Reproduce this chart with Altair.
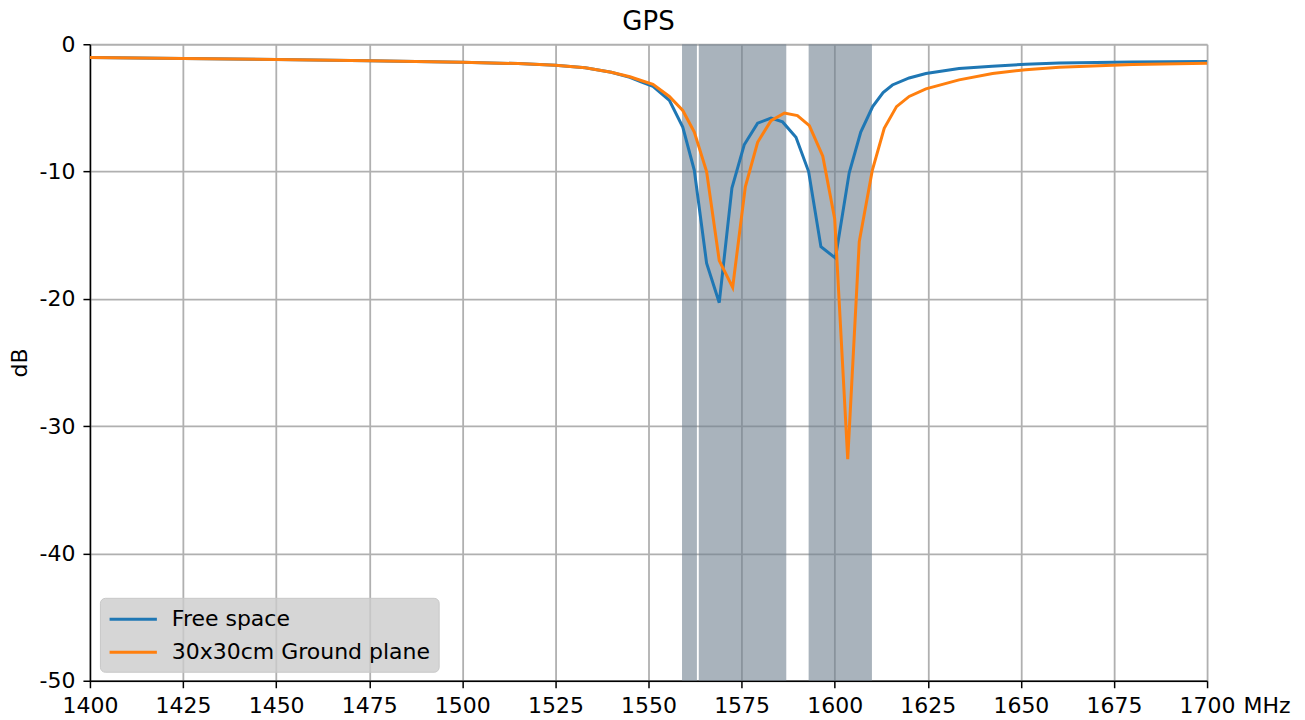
import altair as alt
import pandas as pd

# ---- data ----
free_mhz = [1400, 1425, 1450, 1475, 1500, 1515, 1525, 1533, 1540, 1545, 1548, 1551.2,
            1555.6, 1559.2, 1562.3, 1565.6, 1569.0, 1572.4, 1575.7, 1579.3, 1582.9,
            1586.0, 1589.6, 1593.0, 1596.3, 1600.2, 1603.9, 1607.0, 1610.2, 1613.0,
            1615.5, 1620, 1624.5, 1633.4, 1642.3, 1651.3, 1660.3, 1680, 1700]
free_db = [-1.05, -1.12, -1.2, -1.3, -1.41, -1.52, -1.65, -1.85, -2.2, -2.6, -2.95, -3.3,
           -4.4, -6.5, -9.9, -17.2, -20.3, -11.3, -7.9, -6.2, -5.8,
           -6.1, -7.3, -10.0, -15.9, -16.8, -10.1, -6.9, -4.9, -3.8,
           -3.2, -2.65, -2.3, -1.9, -1.73, -1.57, -1.47, -1.4, -1.35]

gp_mhz = [1400, 1425, 1450, 1475, 1500, 1515, 1525, 1533, 1540, 1545, 1548, 1551.2,
          1555.6, 1559.2, 1562.3, 1565.6, 1569.0, 1572.6, 1576.0, 1579.3, 1582.9,
          1586.5, 1590.0, 1593.2, 1596.8, 1600.0, 1603.5, 1606.6, 1610.1, 1613.3,
          1616.6, 1620, 1624.5, 1633.4, 1642.4, 1651.3, 1660.3, 1680, 1700]
gp_db = [-1.05, -1.12, -1.2, -1.3, -1.41, -1.52, -1.65, -1.85, -2.2, -2.55, -2.85, -3.15,
         -4.1, -5.2, -6.9, -10.0, -17.0, -19.1, -11.2, -7.7, -6.0,
         -5.4, -5.6, -6.4, -8.8, -13.7, -32.6, -15.5, -9.9, -6.6,
         -4.9, -4.1, -3.5, -2.8, -2.3, -2.0, -1.8, -1.6, -1.5]

series_names = ["Free space", "30x30cm Ground plane"]
series_colors = ["#1f77b4", "#ff7f0e"]

band_start = [1559, 1563.5, 1593]
band_end = [1563, 1587, 1610]

x_ticks = [1400, 1425, 1450, 1475, 1500, 1525, 1550, 1575, 1600, 1625, 1650, 1675, 1700]
y_ticks = [0, -10, -20, -30, -40, -50]

W, H = 1118, 637
FONT = "DejaVu Sans"
FS = 22

lines_df = pd.concat([
    pd.DataFrame({"mhz": free_mhz, "db": free_db, "series": series_names[0], "order": 0}),
    pd.DataFrame({"mhz": gp_mhz, "db": gp_db, "series": series_names[1], "order": 1}),
], ignore_index=True)
bands_df = pd.DataFrame({"start": band_start, "end": band_end})

x_scale = alt.Scale(domain=[1400, 1700], nice=False, zero=False)
y_scale = alt.Scale(domain=[-50, 0], nice=False, zero=False)

x_axis = alt.Axis(values=x_ticks, format="d", title="MHz", titleAngle=0, titleAlign="left",
                  titleBaseline="top", titleX=W + 36, titleY=15, titleFont=FONT,
                  titleFontSize=FS, titleFontWeight="normal", titleColor="black",
                  labelFont=FONT, labelFontSize=FS, labelColor="black",
                  labelFlush=False, labelOverlap=False,
                  labelPadding=8, tickSize=7, tickColor="black", tickWidth=1.5,
                  domainColor="black", domainWidth=1.5,
                  grid=True, gridColor="#b0b0b0", gridWidth=1.8)
y_axis = alt.Axis(values=y_ticks, format="d", title="dB", titleAngle=-90, titleAlign="center",
                  titleBaseline="middle", titleX=-70, titleY=H / 2, titleFont=FONT,
                  titleFontSize=FS, titleFontWeight="normal", titleColor="black",
                  labelFont=FONT, labelFontSize=FS, labelColor="black",
                  labelExpr="replace(datum.label, '\u2212', '-')",
                  labelFlush=False, labelOverlap=False,
                  labelPadding=8, tickSize=7, tickColor="black", tickWidth=1.5,
                  domainColor="black", domainWidth=1.5,
                  grid=True, gridColor="#b0b0b0", gridWidth=1.8)

bands = alt.Chart(bands_df).mark_rect(color="#708090", opacity=0.6).encode(
    x=alt.X("start:Q", scale=x_scale, axis=x_axis),
    x2="end:Q",
    y=alt.value(0),
    y2=alt.value(H),
)

lines = alt.Chart(lines_df).mark_line(strokeWidth=3).encode(
    x=alt.X("mhz:Q", scale=x_scale, axis=x_axis),
    y=alt.Y("db:Q", scale=y_scale, axis=y_axis),
    color=alt.Color("series:N",
                    scale=alt.Scale(domain=series_names, range=series_colors),
                    sort=series_names,
                    legend=alt.Legend(orient="none", legendX=10, legendY=554, title=None,
                                      symbolType="M-1,0L3,0", symbolSize=560,
                                      symbolStrokeWidth=3, labelFont=FONT,
                                      labelFontSize=FS, labelColor="black",
                                      labelLimit=500,
                                      labelOffset=37, padding=8, rowPadding=8,
                                      fillColor="rgba(204,204,204,0.8)",
                                      strokeColor="#c8c8c8", cornerRadius=5)),
    order="order:Q",
)

chart = alt.layer(bands, lines).properties(
    width=W, height=H,
    title=alt.TitleParams("GPS", font=FONT, fontSize=26, fontWeight="normal",
                          color="black", offset=9, frame="group", dy=11),
    autosize=alt.AutoSizeParams(type="none"),
    padding={"left": 82, "top": 36, "right": 90, "bottom": 36},
).configure_view(stroke="black", strokeWidth=1.5).configure(background="white")

chart.save("out.html", embed_options={"renderer": "svg", "actions": False})
